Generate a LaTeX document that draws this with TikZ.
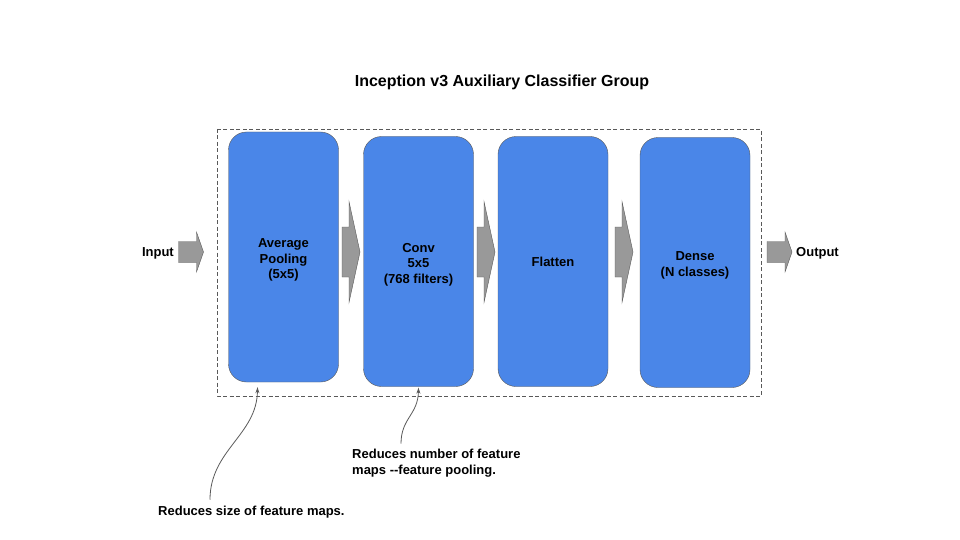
\documentclass[tikz,border=0pt]{standalone}
\usepackage{fontspec}
\setmainfont{Liberation Sans}
\usepackage{xcolor}
\usetikzlibrary{arrows.meta, positioning, calc}
\definecolor{layerBlue}{HTML}{4A86E8}
\definecolor{edgeGray}{HTML}{595959}
\definecolor{arrowGray}{HTML}{999999}
\newcommand{\topPad}{\rule{0pt}{15pt}}
\tikzset{
    layerBox/.style={rectangle, rounded corners=18pt, draw=edgeGray, fill=layerBlue, thin, minimum width=110pt, minimum height=250pt, align=center, font=\fontsize{13}{15.5}\selectfont\bfseries},
    plainText/.style={font=\fontsize{13}{16}\selectfont\bfseries, align=left, inner sep=2pt},
    groupBox/.style={draw=edgeGray, thin, dash pattern=on 4pt off 2.5pt},
    noteArrow/.style={-{Stealth[length=6pt, width=4pt]}, draw=edgeGray, line width=0.8pt},
    bigArrow/.pic={\draw[fill=arrowGray, draw=edgeGray, thin] (-9,-25)--(-2,-25)--(-2,-50.5)--(9,0)--(-2,50.5)--(-2,25)--(-9,25)--cycle;},
    smallArrow/.pic={\draw[fill=arrowGray, draw=edgeGray, thin] (-12.5,-10.5)--(5.5,-10.5)--(5.5,-20)--(12.5,0)--(5.5,20)--(5.5,10.5)--(-12.5,10.5)--cycle;}
}

\begin{document}
\begin{tikzpicture}[x=1pt, y=-1pt]
    \useasboundingbox (0,0) rectangle (960,540);
    \node[font=\fontsize{16}{18}\selectfont\bfseries] (title) at (502,82) {Inception v3 Auxiliary Classifier Group};
    \draw[groupBox] (217,129) rectangle (761,396);
    % layers
    \node[layerBox] (pool) at (283.5,257) {\topPad Average\\Pooling\\(5x5)};
    \node[layerBox] (conv) at (418.5,261.5) {\topPad Conv\\5x5\\(768 filters)};
    \node[layerBox] (flat) at (553,261.5) {Flatten};
    \node[layerBox] (dense) at (695,262.5) {\topPad Dense\\(N classes)};
    % block arrows
    \pic at (191,252) {smallArrow};
    \pic at (351,252) {bigArrow};
    \pic at (486,252) {bigArrow};
    \pic at (624,252) {bigArrow};
    \pic at (779.5,252) {smallArrow};
    \node[plainText, anchor=east] (input) at (176,253) {Input};
    \node[plainText, anchor=west] (output) at (794,253) {Output};
    % notes
    \node[plainText, anchor=west] (sizeNote) at (156,512) {Reduces size of feature maps.};
    \node[plainText, anchor=west] (mapNote) at (350,463) {Reduces number of feature\\maps {-}{-}feature pooling.};
    \draw[noteArrow] ([xshift=54pt, yshift=4pt]sizeNote.north west) .. controls (210,450) and (257,435) .. ([xshift=-26pt, yshift=-5pt]pool.south);
    \draw[noteArrow] ([xshift=51pt, yshift=3pt]mapNote.north west) .. controls (401,418) and (418,415) .. ([yshift=-1pt]conv.south);
\end{tikzpicture}
\end{document}
